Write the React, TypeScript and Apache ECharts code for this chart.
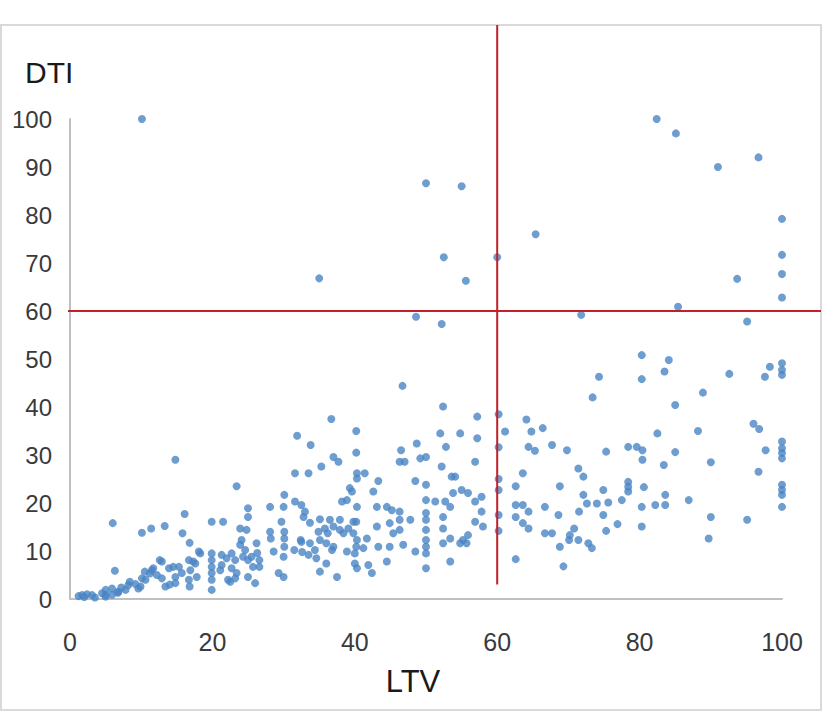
import React, { useEffect, useRef } from "react";
import * as echarts from "echarts";

// [LTV, DTI] pairs grouped by LTV band
const band0to20: [number, number][] = [
  [1.2, 0.6], [1.7, 0.8], [2.0, 0.4], [2.4, 1.0], [3.1, 0.8], [3.5, 0.3], [4.5, 1.2], [5.0, 0.5],
  [5.0, 0.9], [5.0, 1.9], [5.9, 0.9], [5.9, 2.2], [6.7, 1.3], [6.8, 1.5], [7.8, 1.9], [8.2, 2.9],
  [8.4, 3.6], [9.6, 2.2], [9.9, 2.6], [6.3, 5.9], [6.0, 15.8], [10.1, 4.3], [10.6, 4.0], [10.5, 5.7],
  [10.1, 13.8], [11.4, 14.7], [11.2, 5.3], [11.5, 6.0], [11.7, 6.4], [12.6, 8.1], [12.9, 7.8], [12.9, 4.3],
  [13.3, 15.2], [13.4, 2.6], [13.9, 6.4], [14.0, 3.0], [14.5, 6.7], [14.8, 4.6], [14.8, 3.3], [14.8, 29.0],
  [15.3, 6.7], [15.7, 5.4], [15.8, 13.7], [16.1, 17.7], [16.7, 8.1], [16.7, 4.0], [16.8, 11.7], [16.8, 2.6],
  [16.9, 6.0], [17.3, 7.8], [17.6, 7.4], [17.8, 4.6], [18.1, 9.9], [18.3, 9.5], [19.9, 16.1], [19.9, 9.5],
  [19.9, 8.1], [19.9, 6.7], [19.9, 5.4], [19.9, 4.0], [19.9, 1.9], [7.2, 2.4], [9.2, 3.1], [12.2, 5.0],
];

const band20to40: [number, number][] = [
  [21.5, 16.1], [21.3, 9.2], [21.3, 7.1], [21.1, 6.0], [22.0, 8.5], [22.7, 9.5], [22.7, 6.4], [22.2, 4.0],
  [22.5, 3.6], [23.2, 8.1], [23.2, 4.3], [23.4, 5.4], [23.4, 23.5], [23.9, 14.7], [23.9, 11.3], [24.1, 12.3],
  [24.3, 8.8], [24.6, 10.2], [24.8, 14.4], [25.0, 18.9], [25.0, 17.1], [25.0, 8.1], [25.0, 4.6], [25.5, 8.8],
  [25.7, 6.7], [26.0, 3.3], [26.2, 11.6], [26.3, 9.6], [26.6, 8.1], [26.6, 6.7], [28.1, 19.2], [28.1, 14.0],
  [28.2, 12.6], [28.6, 9.9], [29.3, 5.4], [29.7, 16.1], [30.0, 4.6], [30.0, 19.2], [30.1, 21.7], [30.1, 14.0],
  [30.1, 12.6], [30.1, 10.9], [30.0, 8.8], [31.5, 10.2], [31.6, 20.3], [31.6, 26.2], [31.9, 34.0], [32.4, 12.3],
  [32.5, 19.6], [32.5, 11.9], [32.6, 9.8], [32.8, 17.1], [33.0, 18.2], [33.5, 26.2], [33.5, 9.2], [33.7, 15.9],
  [33.7, 11.6], [33.8, 32.1], [34.4, 10.2], [34.6, 8.5], [34.9, 14.0], [35.1, 16.6], [35.1, 12.3], [35.1, 5.7],
  [35.3, 27.6], [35.8, 14.7], [36.0, 11.6], [36.0, 7.4], [36.2, 13.7], [36.5, 16.5], [36.7, 37.5], [36.8, 10.2],
  [37.0, 29.6], [37.0, 15.1], [37.0, 10.9], [37.5, 4.6], [37.7, 28.6], [37.9, 16.5], [37.9, 14.4], [38.2, 20.3],
  [38.4, 13.7], [38.9, 20.6], [38.9, 9.9], [39.1, 14.7], [39.3, 23.1], [39.6, 22.4], [39.8, 16.1], [39.8, 13.7],
];

const band40to60: [number, number][] = [
  [40.2, 35.0], [40.2, 30.5], [40.3, 26.2], [40.3, 25.1], [40.3, 19.2], [40.2, 16.1], [40.3, 12.3], [40.2, 10.9],
  [40.0, 9.5], [40.0, 7.4], [40.3, 6.4], [41.4, 26.2], [41.2, 10.6], [41.7, 12.6], [41.9, 7.1], [42.4, 5.4],
  [42.6, 22.4], [43.1, 15.1], [43.1, 19.2], [43.3, 24.6], [43.3, 10.9], [44.5, 19.2], [44.5, 7.8], [44.9, 15.8],
  [44.9, 10.9], [45.2, 18.5], [45.4, 13.7], [46.3, 18.2], [46.3, 16.5], [46.3, 14.4], [46.5, 31.0], [46.3, 28.6],
  [47.0, 28.6], [46.7, 44.4], [46.8, 11.3], [47.8, 16.5], [48.5, 24.6], [48.5, 9.9], [48.7, 32.4], [49.2, 29.3],
  [50.0, 29.6], [50.0, 23.8], [50.0, 20.6], [50.0, 17.9], [50.0, 16.5], [50.0, 14.4], [50.0, 12.3], [50.0, 10.9],
  [50.0, 9.5], [50.0, 6.4], [51.3, 20.3], [52.0, 34.5], [52.2, 27.6], [52.4, 40.1], [52.4, 17.1], [52.4, 14.7],
  [52.4, 11.6], [52.7, 20.3], [52.8, 31.7], [53.4, 19.2], [53.4, 12.6], [53.4, 7.8], [53.6, 25.5], [53.8, 22.1],
  [54.1, 25.5], [54.8, 34.5], [54.8, 11.6], [55.0, 22.7], [55.2, 12.3], [55.7, 11.6], [55.9, 22.1], [55.9, 13.3],
  [56.9, 28.6], [56.9, 20.3], [56.9, 16.1], [57.2, 38.0], [57.2, 33.5], [57.8, 21.3], [57.8, 18.2], [58.0, 15.1],
];

const band60to80: [number, number][] = [
  [60.2, 38.5], [60.2, 31.6], [60.2, 25.0], [60.2, 22.7], [60.2, 17.5], [60.2, 14.2], [61.1, 34.9], [62.6, 23.5],
  [62.6, 19.6], [62.6, 17.1], [62.6, 8.3], [63.6, 26.2], [63.6, 19.6], [63.6, 15.8], [64.1, 37.4], [64.4, 31.7],
  [64.4, 18.2], [64.4, 14.7], [64.8, 34.9], [65.3, 30.9], [66.4, 35.6], [66.7, 19.2], [66.7, 13.7], [67.7, 32.1],
  [67.7, 13.7], [68.6, 17.5], [68.8, 23.5], [68.8, 10.9], [69.3, 6.8], [69.8, 31.0], [70.1, 12.3], [70.2, 13.3],
  [70.8, 14.7], [71.4, 27.2], [71.4, 12.3], [71.5, 18.2], [72.1, 25.5], [72.1, 21.7], [72.6, 19.9], [72.8, 11.6],
  [73.3, 10.6], [73.4, 42.0], [74.0, 19.9], [74.3, 46.3], [74.9, 22.7], [74.9, 17.5], [75.3, 30.7], [75.3, 14.2],
  [75.6, 20.1], [76.9, 15.6], [77.5, 20.6], [78.4, 31.7], [78.4, 24.4], [78.4, 23.4], [78.4, 22.4], [79.6, 31.7],
];

const band80to100: [number, number][] = [
  [80.3, 50.8], [80.3, 45.8], [80.4, 31.0], [80.4, 29.0], [80.6, 23.3], [80.3, 19.2], [80.3, 15.1], [82.2, 19.6],
  [82.5, 34.5], [83.4, 27.9], [83.5, 47.4], [83.6, 21.7], [83.6, 19.6], [84.1, 49.8], [85.0, 40.4], [85.0, 30.6],
  [86.9, 20.6], [88.2, 35.0], [88.9, 43.0], [89.7, 12.6], [90.0, 28.5], [90.0, 17.1], [92.6, 46.9], [95.1, 16.5],
  [96.0, 36.5], [96.8, 35.4], [96.7, 26.5], [97.6, 46.3], [97.7, 31.0], [98.3, 48.4], [100, 49.1], [100, 47.7],
  [100, 46.7], [100, 32.8], [100, 31.4], [100, 30.4], [100, 29.3], [100, 23.8], [100, 22.7], [100, 21.7], [100, 19.2],
];

const highDtiPoints: [number, number][] = [
  [10.1, 100], [35.0, 66.8], [48.6, 58.8], [52.2, 57.3], [50.0, 86.6], [55.0, 86.0], [52.5, 71.2], [55.6, 66.3],
  [60.0, 71.2], [65.4, 76.0], [71.8, 59.2], [82.4, 100], [85.1, 97.0], [91.0, 90.0], [96.7, 92.0], [93.7, 66.7],
  [85.4, 60.9], [95.1, 57.8], [100, 79.2], [100, 71.7], [100, 67.7], [100, 62.8],
];

const ltvThreshold = 60;
const dtiThreshold = 60;
const xAxisTitle = "LTV";
const yAxisTitle = "DTI";

export default function App() {
  const ref = useRef<HTMLDivElement>(null);

  useEffect(() => {
    if (!ref.current) return;
    const chart = echarts.init(ref.current, null, { renderer: "svg" });
    const font = "'Liberation Sans', Arial, sans-serif";
    const allPoints = [
      ...band0to20,
      ...band20to40,
      ...band40to60,
      ...band60to80,
      ...band80to100,
      ...highDtiPoints,
    ];
    chart.setOption({
      animation: false,
      backgroundColor: "#ffffff",
      grid: { left: 70, right: 45, top: 119, bottom: 114, containLabel: false },
      xAxis: {
        type: "value",
        min: 0,
        max: 100,
        interval: 20,
        axisLine: { show: true, lineStyle: { color: "#bfbfbf", width: 2 } },
        axisTick: { show: false },
        splitLine: { show: false },
        axisLabel: { fontSize: 25, color: "#3a3a3a", margin: 30, fontFamily: font },
      },
      yAxis: {
        type: "value",
        min: 0,
        max: 100,
        interval: 10,
        axisLine: { show: true, lineStyle: { color: "#bfbfbf", width: 2 } },
        axisTick: { show: false },
        splitLine: { show: false },
        axisLabel: { fontSize: 24, color: "#3a3a3a", margin: 18, fontFamily: font },
      },
      series: [
        {
          type: "scatter",
          data: allPoints,
          symbolSize: 8,
          clip: false,
          itemStyle: { color: "#4a84c4" },
        },
      ],
    });

    const vx = chart.convertToPixel({ xAxisIndex: 0 }, ltvThreshold) as number;
    const hy = chart.convertToPixel({ yAxisIndex: 0 }, dtiThreshold) as number;
    const vBottom = chart.convertToPixel({ yAxisIndex: 0 }, 3) as number;

    chart.setOption({
      graphic: [
        {
          type: "rect",
          z: 0,
          shape: { x: 1, y: 25, width: 820, height: 685 },
          style: { fill: "none", stroke: "#d9d9d9", lineWidth: 2 },
        },
        {
          type: "line",
          z: 10,
          shape: { x1: vx, y1: 25, x2: vx, y2: vBottom },
          style: { stroke: "#c0202a", lineWidth: 2 },
        },
        {
          type: "line",
          z: 10,
          shape: { x1: 68, y1: hy, x2: 821, y2: hy },
          style: { stroke: "#c0202a", lineWidth: 2 },
        },
        {
          type: "text",
          z: 10,
          x: 25,
          y: 72,
          style: {
            text: yAxisTitle,
            fontSize: 30,
            fontFamily: font,
            fill: "#1a1a1a",
            textAlign: "left",
            textVerticalAlign: "middle",
          },
        },
        {
          type: "text",
          z: 10,
          x: 413,
          y: 681,
          style: {
            text: xAxisTitle,
            fontSize: 31,
            fontFamily: font,
            fill: "#1a1a1a",
            textAlign: "center",
            textVerticalAlign: "middle",
          },
        },
      ],
    });

    return () => {
      chart.dispose();
    };
  }, []);

  return (
    <div
      ref={ref}
      style={{ position: "absolute", left: 0, top: 0, width: 827, height: 713, background: "#fff" }}
    />
  );
}
